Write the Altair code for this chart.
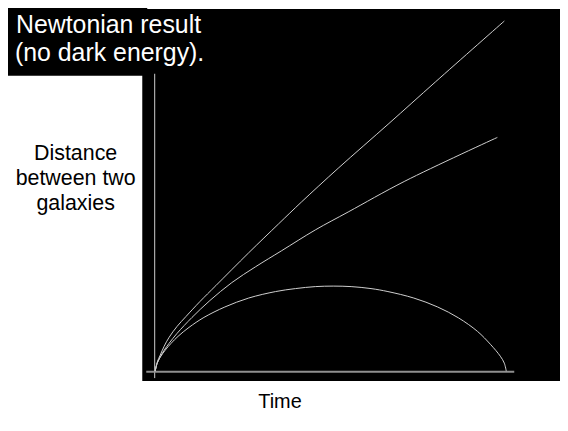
import altair as alt
import pandas as pd

# Curves (time, distance) in arbitrary units
open_time = [0, 2, 5, 9, 14, 22, 31, 45, 61, 94, 124, 147, 184, 235, 282, 351]
open_dist = [0, 9, 16, 25, 34, 45, 55, 70, 86, 119, 148, 170, 204, 249, 291, 352]

crit_time = [0, 2, 5, 9, 14, 22, 37, 55, 77, 101, 127, 161, 194, 251, 344]
crit_dist = [0, 8, 14, 21, 28, 38, 54, 71, 89, 105, 121, 142, 160, 191, 235]

closed_time = [0, 2, 5, 10, 16, 23, 34, 49, 70, 94, 121, 141, 161, 179, 197, 217,
               234, 260, 284, 305, 324, 337, 347, 351, 353]
closed_dist = [0, 8, 14, 21, 28, 35, 44, 54, 64.5, 73.5, 80, 83, 85, 85.5, 85, 83,
               80, 73.5, 64.5, 53.5, 40, 27, 15, 8, 0]

title_lines = ["Newtonian result", "(no dark energy)."]
y_label = ["Distance", "between two", "galaxies"]
x_label = ["Time"]

curves = pd.concat([
    pd.DataFrame({"t": open_time, "d": open_dist, "case": "open"}),
    pd.DataFrame({"t": crit_time, "d": crit_dist, "case": "critical"}),
    pd.DataFrame({"t": closed_time, "d": closed_dist, "case": "closed"}),
])

xs = alt.Scale(domain=[-13, 407], nice=False, zero=False)
ys = alt.Scale(domain=[-10, 364], nice=False, zero=False)

box = pd.DataFrame({"t1": [-153], "t2": [-8], "d1": [297], "d2": [370]})
title_box = alt.Chart(box).mark_rect(color="black").encode(
    x=alt.X("t1:Q", scale=xs, axis=None), x2="t2:Q",
    y=alt.Y("d1:Q", scale=ys, axis=None), y2="d2:Q",
)

lines = alt.Chart(curves).mark_line(
    color="#d0d0d0", strokeWidth=1, interpolate="catmull-rom"
).encode(
    x=alt.X("t:Q", scale=xs, axis=None),
    y=alt.Y("d:Q", scale=ys, axis=None),
    detail="case:N",
)

vaxis = alt.Chart(pd.DataFrame({"t": [-0.5], "d1": [-7], "d2": [299]})).mark_rule(
    color="#cfcfcf", strokeWidth=1
).encode(
    x=alt.X("t:Q", scale=xs, axis=None), y=alt.Y("d1:Q", scale=ys, axis=None), y2="d2:Q"
)

haxis = alt.Chart(pd.DataFrame({"d": [-0.5], "t1": [-9], "t2": [361]})).mark_rule(
    color="#8f8f8f", strokeWidth=2
).encode(
    y=alt.Y("d:Q", scale=ys, axis=None), x=alt.X("t1:Q", scale=xs, axis=None), x2="t2:Q"
)

tt = pd.DataFrame({"label": title_lines, "t": [-140, -141], "d": [340, 312]})
title_text = alt.Chart(tt).mark_text(
    color="white", font="Liberation Sans", fontSize=25,
    align="left", baseline="alphabetic"
).encode(
    x=alt.X("t:Q", scale=xs, axis=None), y=alt.Y("d:Q", scale=ys, axis=None), text="label:N"
)

yl = pd.DataFrame({"label": y_label, "t": [-80, -80, -80], "d": [212, 187, 162]})
ylab = alt.Chart(yl).mark_text(
    color="black", font="Liberation Sans", fontSize=21.5,
    align="center", baseline="alphabetic"
).encode(
    x=alt.X("t:Q", scale=xs, axis=None), y=alt.Y("d:Q", scale=ys, axis=None), text="label:N"
)

xl = pd.DataFrame({"label": x_label, "t": [125.5], "d": [-37]})
xlab = alt.Chart(xl).mark_text(
    color="black", font="Liberation Sans", fontSize=20,
    align="center", baseline="alphabetic"
).encode(
    x=alt.X("t:Q", scale=xs, axis=None), y=alt.Y("d:Q", scale=ys, axis=None), text="label:N"
)

chart = alt.layer(title_box, vaxis, haxis, lines, title_text, ylab, xlab).properties(
    width=420, height=374,
    padding={"left": 135, "top": 0, "right": 0, "bottom": 36},
    autosize=alt.AutoSizeParams(type="none"),
    background="white",
).configure_view(fill="black", strokeWidth=0)

chart.save("out.html", embed_options={"renderer": "svg", "actions": False})
